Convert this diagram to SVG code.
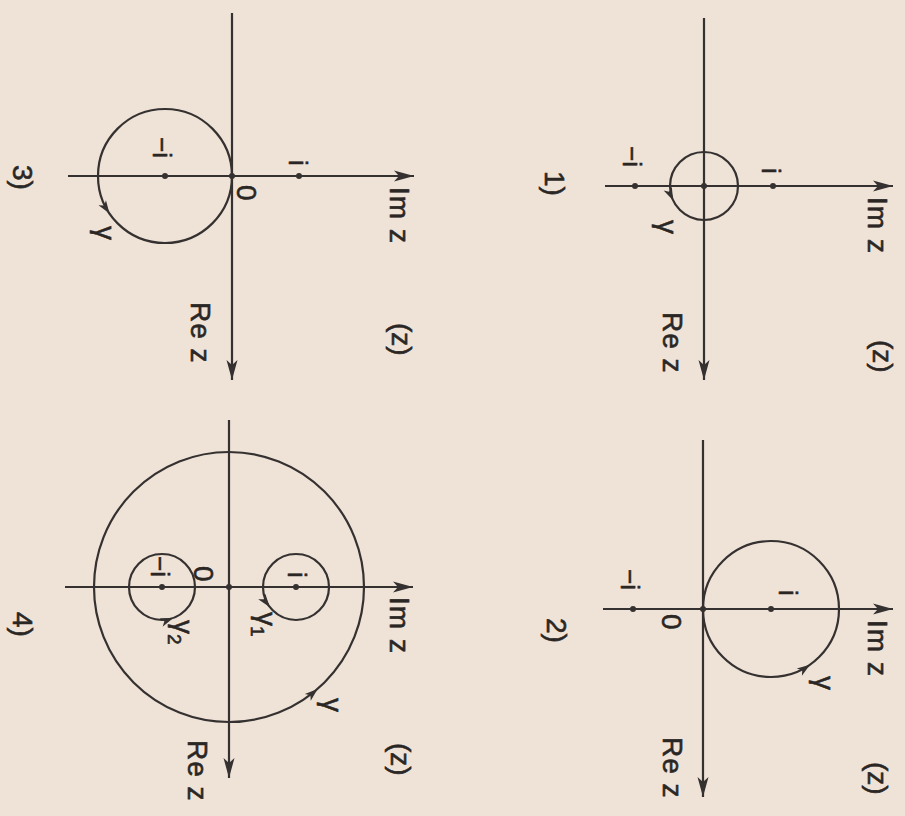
<svg xmlns="http://www.w3.org/2000/svg" width="905" height="816" viewBox="0 0 905 816">
<style>
.bg{fill:#efe3d8}
.ax{stroke:#353130;stroke-width:2.2;fill:none;marker-end:url(#ah)}
.cv{stroke:#353130;stroke-width:2.2;fill:none}
.dot{fill:#353130}
text{font-family:"Liberation Sans",Arial,sans-serif;fill:#2a2624;stroke:#2a2624;stroke-width:0.6px;font-size:28px}
.lb{letter-spacing:1px}
.pt{font-size:26px}
.sub{font-size:19px}
</style>
<defs>
<marker id="ah" markerWidth="24" markerHeight="12" refX="22" refY="6" orient="auto" markerUnits="userSpaceOnUse">
<path d="M22,6 L2,0.5 L7,6 L2,11.5 Z" fill="#353130"/>
</marker>
<path id="ca" d="M0,0 L-13,-4.5 L-9.5,0 L-13,4.5 Z" fill="#353130"/>
</defs>
<rect class="bg" x="0" y="0" width="905" height="816"/>

<!-- Panel 1 -->
<g id="panel1">
<g id="p1-axes">
<line class="ax" x1="704" y1="18" x2="704" y2="380"/>
<line class="ax" x1="605" y1="186" x2="893" y2="186"/>
</g>
<circle class="cv" cx="704" cy="186" r="34"/>
<use href="#ca" transform="translate(673.2,200.4) rotate(65)"/>
<circle class="dot" cx="635" cy="186" r="3"/>
<circle class="dot" cx="704" cy="186" r="3"/>
<circle class="dot" cx="773" cy="186" r="3"/>
<text class="pt" transform="translate(623,146) rotate(90)">−i</text>
<text class="pt" transform="translate(762,168) rotate(90)">i</text>
<text transform="translate(658,220) rotate(90)">γ</text>
<text class="lb" transform="translate(868,197) rotate(90)">Im z</text>
<text class="lb" transform="translate(663,312) rotate(90)">Re z</text>
<text transform="translate(873,340) rotate(90)">(z)</text>
<text transform="translate(545,171) rotate(90)">1)</text>
</g>

<!-- Panel 2 -->
<g id="panel2">
<g id="p2-axes">
<line class="ax" x1="703" y1="440" x2="703" y2="797"/>
<line class="ax" x1="603" y1="609" x2="893" y2="609"/>
</g>
<circle class="cv" cx="771" cy="609" r="68"/>
<use href="#ca" transform="translate(810,664.7) rotate(-35)"/>
<circle class="dot" cx="633" cy="609" r="3"/>
<circle class="dot" cx="703" cy="609" r="3"/>
<circle class="dot" cx="771" cy="609" r="3"/>
<text class="pt" transform="translate(621,569) rotate(90)">−i</text>
<text class="pt" transform="translate(779,590) rotate(90)">i</text>
<text transform="translate(662,614) rotate(90)">0</text>
<text transform="translate(815,676) rotate(90)">γ</text>
<text class="lb" transform="translate(868,620) rotate(90)">Im z</text>
<text class="lb" transform="translate(663,737) rotate(90)">Re z</text>
<text transform="translate(868,762) rotate(90)">(z)</text>
<text transform="translate(547,618) rotate(90)">2)</text>
</g>

<!-- Panel 3 -->
<g id="panel3">
<g id="p3-axes">
<line class="ax" x1="232" y1="13" x2="232" y2="380"/>
<line class="ax" x1="68" y1="176" x2="414" y2="176"/>
</g>
<circle class="cv" cx="165" cy="176" r="67"/>
<use href="#ca" transform="translate(109.5,213.5) rotate(56)"/>
<circle class="dot" cx="165" cy="176" r="3"/>
<circle class="dot" cx="232" cy="176" r="3"/>
<circle class="dot" cx="299" cy="176" r="3"/>
<text class="pt" transform="translate(153,137) rotate(90)">−i</text>
<text class="pt" transform="translate(289,160) rotate(90)">i</text>
<text transform="translate(237,185) rotate(90)">0</text>
<text transform="translate(96,226) rotate(90)">γ</text>
<text class="lb" transform="translate(390,187) rotate(90)">Im z</text>
<text class="lb" transform="translate(191,302) rotate(90)">Re z</text>
<text transform="translate(392,323) rotate(90)">(z)</text>
<text transform="translate(13,165) rotate(90)">3)</text>
</g>

<!-- Panel 4 -->
<g id="panel4">
<g id="p4-axes">
<line class="ax" x1="229" y1="420" x2="229" y2="778"/>
<line class="ax" x1="65" y1="587" x2="413" y2="587"/>
</g>
<circle class="cv" cx="229" cy="587" r="135"/>
<circle class="cv" cx="162" cy="587" r="33"/>
<circle class="cv" cx="296" cy="587" r="33"/>
<use href="#ca" transform="translate(317.6,688.9) rotate(-41)"/>
<use href="#ca" transform="translate(269.6,606.9) rotate(53)"/>
<use href="#ca" transform="translate(173.3,618) rotate(-20)"/>
<circle class="dot" cx="162" cy="587" r="3"/>
<circle class="dot" cx="229" cy="587" r="3"/>
<circle class="dot" cx="296" cy="587" r="3"/>
<text class="pt" transform="translate(151,556) rotate(90)">−i</text>
<text class="pt" transform="translate(288,572) rotate(90)">i</text>
<text transform="translate(194,566) rotate(90)">0</text>
<text transform="translate(257,612) rotate(90)">γ<tspan class="sub" dy="6">1</tspan></text>
<text transform="translate(174,620) rotate(90)">γ<tspan class="sub" dy="6">2</tspan></text>
<text transform="translate(323,698) rotate(90)">γ</text>
<text class="lb" transform="translate(390,597) rotate(90)">Im z</text>
<text class="lb" transform="translate(188,740) rotate(90)">Re z</text>
<text transform="translate(391,743) rotate(90)">(z)</text>
<text transform="translate(13,612) rotate(90)">4)</text>
</g>
</svg>
